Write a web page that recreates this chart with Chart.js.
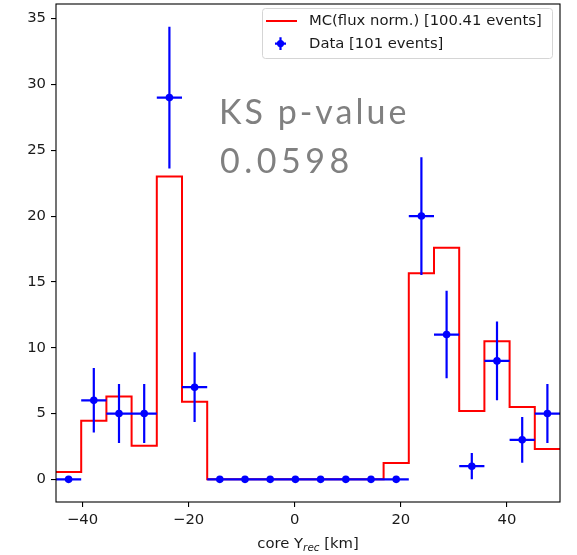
<!DOCTYPE html>
<html>
<head>
<meta charset="utf-8">
<script src="https://cdn.jsdelivr.net/npm/chart.js@4"></script>
<style>
  body { margin: 0; background: #fff; }
</style>
</head>
<body>
<canvas id="ks-chart" width="577" height="555"></canvas>
<script>
// bin edges / centres of the core Y histogram (km)
const binEdges = [-45, -40.25, -35.5, -30.75, -26, -21.25, -16.5, -11.75, -7, -2.25, 2.5,
  7.25, 12, 16.75, 21.5, 26.25, 31, 35.75, 40.5, 45.25, 50];
const binCenters = [-42.625, -37.875, -33.125, -28.375, -23.625, -18.875, -14.125, -9.375,
  -4.625, 0.125, 4.875, 9.625, 14.375, 19.125, 23.875, 28.625, 33.375, 38.125, 42.875, 47.625];
const halfWidth = 2.375;

// MC (flux normalised) histogram
const mcCounts = [0.55, 4.45, 6.3, 2.55, 23.0, 5.9, 0, 0, 0, 0, 0, 0, 0, 1.25, 15.65, 17.6,
  5.2, 10.5, 5.5, 2.3];
// data counts and their error bars
const dataCounts = [0, 6, 5, 5, 29, 7, 0, 0, 0, 0, 0, 0, 0, 0, 20, 11, 1, 9, 3, 5];
const dataErrors = [0, 2.45, 2.24, 2.24, 5.39, 2.65, 0, 0, 0, 0, 0, 0, 0, 0, 4.47, 3.32,
  1, 3, 1.73, 2.24];

const xTicks = [-40, -20, 0, 20, 40];
const yTicks = [0, 5, 10, 15, 20, 25, 30, 35];

const mcLabel = 'MC(flux norm.) [100.41 events]';
const dataLabel = 'Data [101 events]';
const ksLines = ['KS p-value', '0.0598'];

const FONT = '"DejaVu Sans", sans-serif';
const FS = 14.8;

// step line through the bin edges: each bin value runs up to the next edge
var histPoints = binEdges.map(function(x, i) {
  return { x: x, y: mcCounts[Math.min(i, mcCounts.length - 1)] };
});

// error bars, one segment each, separated by gaps
var vBars = [], hBars = [];
binCenters.forEach(function(c, i) {
  var v = dataCounts[i], e = dataErrors[i];
  vBars.push({x: c, y: v - e}, {x: c, y: v + e}, {x: c, y: null});
  hBars.push({x: c - halfWidth, y: v}, {x: c + halfWidth, y: v}, {x: c, y: null});
});
var dataPoints = binCenters.map(function(c, i) { return {x: c, y: dataCounts[i]}; });

const extras = {
  id: 'extras',
  afterDatasetsDraw: function(chart) {
    var ctx = chart.ctx, a = chart.chartArea;
    ctx.save();
    // axes frame
    ctx.strokeStyle = '#000';
    ctx.lineWidth = 1.1;
    ctx.strokeRect(a.left, a.top, a.right - a.left, a.bottom - a.top);

    // KS text
    ctx.fillStyle = '#808080';
    ctx.font = '34px Lato, sans-serif';
    ctx.textAlign = 'left';
    ctx.textBaseline = 'alphabetic';
    ctx.letterSpacing = '3px';
    ctx.fillText(ksLines[0], 219, 124);
    ctx.letterSpacing = '4.5px';
    ctx.fillText(ksLines[1], 220, 173);
    ctx.letterSpacing = '0px';
    ctx.restore();
  },
  afterDraw: function(chart) {
    var ctx = chart.ctx, a = chart.chartArea;
    ctx.save();
    // legend box
    var bx = 262.5, by = 8.5, bw = 290, bh = 50, r = 3;
    ctx.beginPath();
    ctx.roundRect(bx, by, bw, bh, r);
    ctx.fillStyle = 'rgba(255,255,255,0.8)';
    ctx.fill();
    ctx.strokeStyle = '#d5d5d5';
    ctx.lineWidth = 1;
    ctx.stroke();

    ctx.strokeStyle = '#ff0000';
    ctx.lineWidth = 2;
    ctx.beginPath();
    ctx.moveTo(266, 21); ctx.lineTo(297, 21);
    ctx.stroke();

    ctx.strokeStyle = '#0000ff';
    ctx.lineWidth = 2.2;
    ctx.beginPath();
    ctx.moveTo(280.5, 37.3); ctx.lineTo(280.5, 50);
    ctx.moveTo(275, 43.6); ctx.lineTo(286, 43.6);
    ctx.stroke();
    ctx.fillStyle = '#0000ff';
    ctx.beginPath();
    ctx.arc(280.5, 43.6, 3.6, 0, Math.PI * 2);
    ctx.fill();

    ctx.fillStyle = '#1a1a1a';
    ctx.font = FS + 'px ' + FONT;
    ctx.textBaseline = 'middle';
    ctx.textAlign = 'left';
    ctx.fillText(mcLabel, 309, 21.5);
    ctx.fillText(dataLabel, 309, 44);

    // x axis title with subscript
    var cx = (a.left + a.right) / 2, base = 548;
    var p1 = 'core Y', p2 = 'rec', p3 = ' [km]';
    ctx.textBaseline = 'alphabetic';
    ctx.font = FS + 'px ' + FONT;
    var w1 = ctx.measureText(p1).width, w3 = ctx.measureText(p3).width;
    ctx.font = 'italic ' + (FS * 0.7) + 'px ' + FONT;
    var w2 = ctx.measureText(p2).width;
    var x0 = cx - (w1 + w2 + w3) / 2;
    ctx.font = FS + 'px ' + FONT;
    ctx.fillText(p1, x0, base);
    ctx.font = 'italic ' + (FS * 0.7) + 'px ' + FONT;
    ctx.fillText(p2, x0 + w1, base + 3);
    ctx.font = FS + 'px ' + FONT;
    ctx.fillText(p3, x0 + w1 + w2, base);
    ctx.restore();
  }
};

var minus = function(v) { return String(v).replace('-', '\u2212'); };

var ctx = document.getElementById('ks-chart').getContext('2d');
var myChart = new Chart(ctx, {
  type: 'line',
  data: {
    datasets: [{
      label: dataLabel,
      data: dataPoints,
      showLine: false,
      pointRadius: 3.8,
      pointBackgroundColor: '#0000ff',
      pointBorderWidth: 0,
      order: 0,
    }, {
      label: 'yerr',
      data: vBars,
      borderColor: '#0000ff',
      borderWidth: 2.2,
      pointRadius: 0,
      spanGaps: false,
      order: 1,
    }, {
      label: 'xerr',
      data: hBars,
      borderColor: '#0000ff',
      borderWidth: 2.2,
      pointRadius: 0,
      spanGaps: false,
      order: 1,
    }, {
      label: mcLabel,
      data: histPoints,
      stepped: 'before',
      borderColor: '#ff0000',
      borderWidth: 2,
      pointRadius: 0,
      order: 2,
    }],
  },
  options: {
    responsive: false,
    animation: false,
    devicePixelRatio: 1,
    events: [],
    layout: { padding: { top: 1, right: 17, left: 0, bottom: 0 } },
    scales: {
      x: {
        type: 'linear',
        min: binEdges[0],
        max: binEdges[binEdges.length - 1],
        afterBuildTicks: function(scale) { scale.ticks = xTicks.map(function(v) { return {value: v}; }); },
        afterFit: function(scale) { scale.height = 53; scale.paddingLeft = 0; scale.paddingRight = 0; },
        grid: { drawOnChartArea: false, tickLength: 5, color: '#000', lineWidth: 1.1 },
        border: { display: false },
        ticks: { color: '#1a1a1a', font: { family: FONT, size: FS }, padding: 4, maxRotation: 0, callback: minus },
      },
      y: {
        type: 'linear',
        min: -1.72,
        max: 36.11,
        afterBuildTicks: function(scale) { scale.ticks = yTicks.map(function(v) { return {value: v}; }); },
        afterFit: function(scale) { scale.width = 56; scale.paddingTop = 0; scale.paddingBottom = 0; },
        grid: { drawOnChartArea: false, tickLength: 5, color: '#000', lineWidth: 1.1 },
        border: { display: false },
        ticks: { color: '#1a1a1a', font: { family: FONT, size: FS }, padding: 5, callback: minus },
      }
    },
    plugins: {
      legend: { display: false },
      tooltip: { enabled: false },
    },
  },
  plugins: [extras],
});
</script>
</body>
</html>
